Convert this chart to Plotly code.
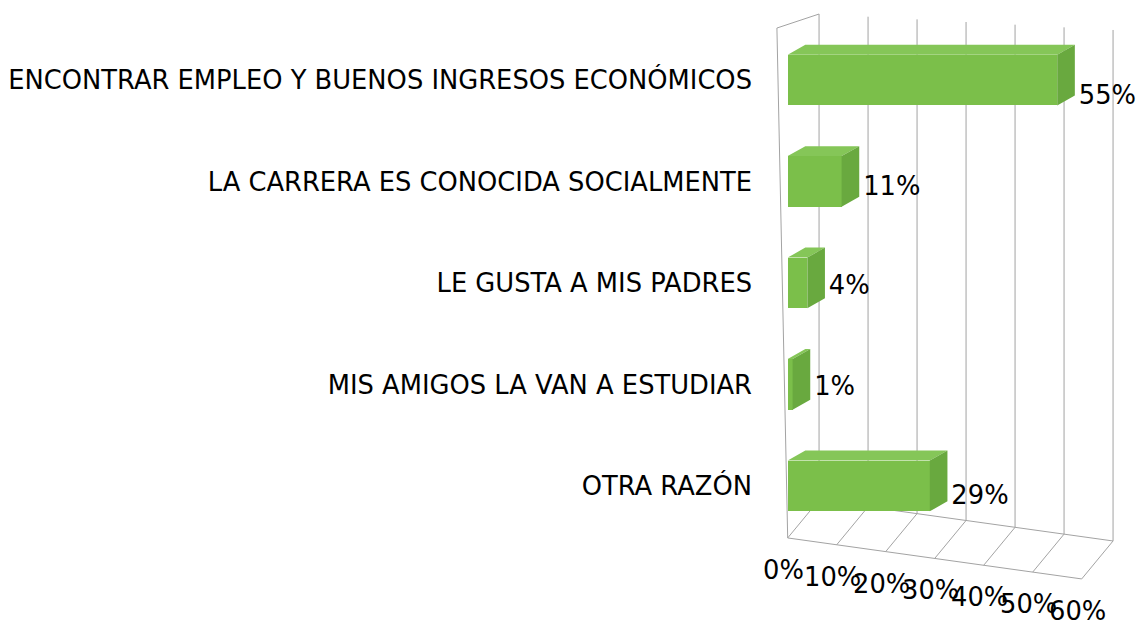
import plotly.graph_objects as go

# ---- data ----
categories = [
    "ENCONTRAR EMPLEO Y BUENOS INGRESOS ECONÓMICOS",
    "LA CARRERA ES CONOCIDA SOCIALMENTE",
    "LE GUSTA A MIS PADRES",
    "MIS AMIGOS LA VAN A ESTUDIAR",
    "OTRA RAZÓN",
]
values = [0.55, 0.11, 0.04, 0.01, 0.29]
value_labels = ["55%", "11%", "4%", "1%", "29%"]
tick_values = [0.0, 0.1, 0.2, 0.3, 0.4, 0.5, 0.6]
tick_labels = ["0%", "10%", "20%", "30%", "40%", "50%", "60%"]

# ---- styling ----
FONT = "DejaVu Sans"
FS = 25.75
C_FRONT = "#7BBF4A"
C_TOP = "#85C658"
C_SIDE = "#69A93F"
C_GRID = "#A3A3A3"

pos = list(range(len(categories)))
BAR_W = 0.5
BDX, BDY = 0.036, 0.0985          # bar depth (oblique projection)

# frame (pseudo 3D walls) geometry in axis units
FLOOR_Y0, FLOOR_SLOPE = 4.512, 0.673
WDX, WDY = 0.064, 0.374
TOP_Y0, TOP_SLOPE = -0.650, 0.262
LEFT_TOP = (-0.022, -0.512)

def floor_front(t):
    return FLOOR_Y0 + FLOOR_SLOPE * t

fig = go.Figure()

shapes = []
line = dict(color=C_GRID, width=1)
for t in tick_values:
    yf = floor_front(t)
    yb = yf - WDY
    shapes.append(dict(type="line", xref="x", yref="y", x0=t, y0=yf, x1=t + WDX, y1=yb, line=line, layer="below"))
    yt = TOP_Y0 + TOP_SLOPE * t
    shapes.append(dict(type="line", xref="x", yref="y", x0=t + WDX, y0=yt, x1=t + WDX, y1=yb, line=line, layer="below"))
t0, t1 = tick_values[0], tick_values[-1]
shapes.append(dict(type="line", xref="x", yref="y", x0=t0, y0=floor_front(t0), x1=t1, y1=floor_front(t1), line=line, layer="below"))
shapes.append(dict(type="line", xref="x", yref="y", x0=t0 + WDX, y0=floor_front(t0) - WDY, x1=t1 + WDX, y1=floor_front(t1) - WDY, line=line, layer="below"))
shapes.append(dict(type="line", xref="x", yref="y", x0=LEFT_TOP[0], y0=LEFT_TOP[1], x1=t0, y1=floor_front(t0), line=line, layer="below"))
shapes.append(dict(type="line", xref="x", yref="y", x0=LEFT_TOP[0], y0=LEFT_TOP[1], x1=t0 + WDX, y1=TOP_Y0, line=line, layer="below"))

# front faces
fig.add_trace(go.Bar(
    x=values, y=pos, orientation="h", width=BAR_W,
    marker=dict(color=C_FRONT, line=dict(width=0)),
    hoverinfo="skip", showlegend=False,
))

# top and side faces
tx, ty, sx, sy = [], [], [], []
for v, c in zip(values, pos):
    top = c - BAR_W / 2
    bot = c + BAR_W / 2
    tx += [0, v, v + BDX, BDX, 0, None]
    ty += [top, top, top - BDY, top - BDY, top, None]
    sx += [v, v + BDX, v + BDX, v, v, None]
    sy += [top, top - BDY, bot - BDY, bot, top, None]
fig.add_trace(go.Scatter(x=tx, y=ty, mode="lines", fill="toself", fillcolor=C_TOP,
                         line=dict(width=0, color=C_TOP), hoverinfo="skip", showlegend=False))
fig.add_trace(go.Scatter(x=sx, y=sy, mode="lines", fill="toself", fillcolor=C_SIDE,
                         line=dict(width=0, color=C_SIDE), hoverinfo="skip", showlegend=False))

# value labels
fig.add_trace(go.Scatter(
    x=[v + BDX + 0.008 for v in values],
    y=[c + (4 + 25 * v) / 101.5 for v, c in zip(values, pos)],
    mode="text", text=value_labels, textposition="middle right",
    textfont=dict(family=FONT, size=FS, color="#000000"),
    cliponaxis=False, hoverinfo="skip", showlegend=False,
))

# slanted x tick labels (following the floor's front edge)
annotations = []
for t, lab in zip(tick_values, tick_labels):
    annotations.append(dict(
        x=t, y=floor_front(t) + 0.345, xref="x", yref="y", text=lab,
        showarrow=False, xanchor="center", yanchor="middle", xshift=-4, yshift=3,
        font=dict(family=FONT, size=FS, color="#000000"),
    ))

fig.update_layout(
    width=1136, height=615, autosize=False,
    margin=dict(l=758, r=28, t=4, b=0),
    paper_bgcolor="white", plot_bgcolor="white",
    bargap=0, showlegend=False,
    shapes=shapes, annotations=annotations,
    font=dict(family=FONT, size=FS, color="#000000"),
    xaxis=dict(range=[-0.03, 0.67], showgrid=False, zeroline=False,
               showticklabels=False, showline=False, fixedrange=True),
    yaxis=dict(range=[5.35, -0.670], tickmode="array", tickvals=pos, ticktext=categories,
               showgrid=False, zeroline=False, showline=False, ticks="",
               ticklabelstandoff=20,
               tickfont=dict(family=FONT, size=FS, color="#000000"), fixedrange=True),
)

fig.write_html("out.html")
